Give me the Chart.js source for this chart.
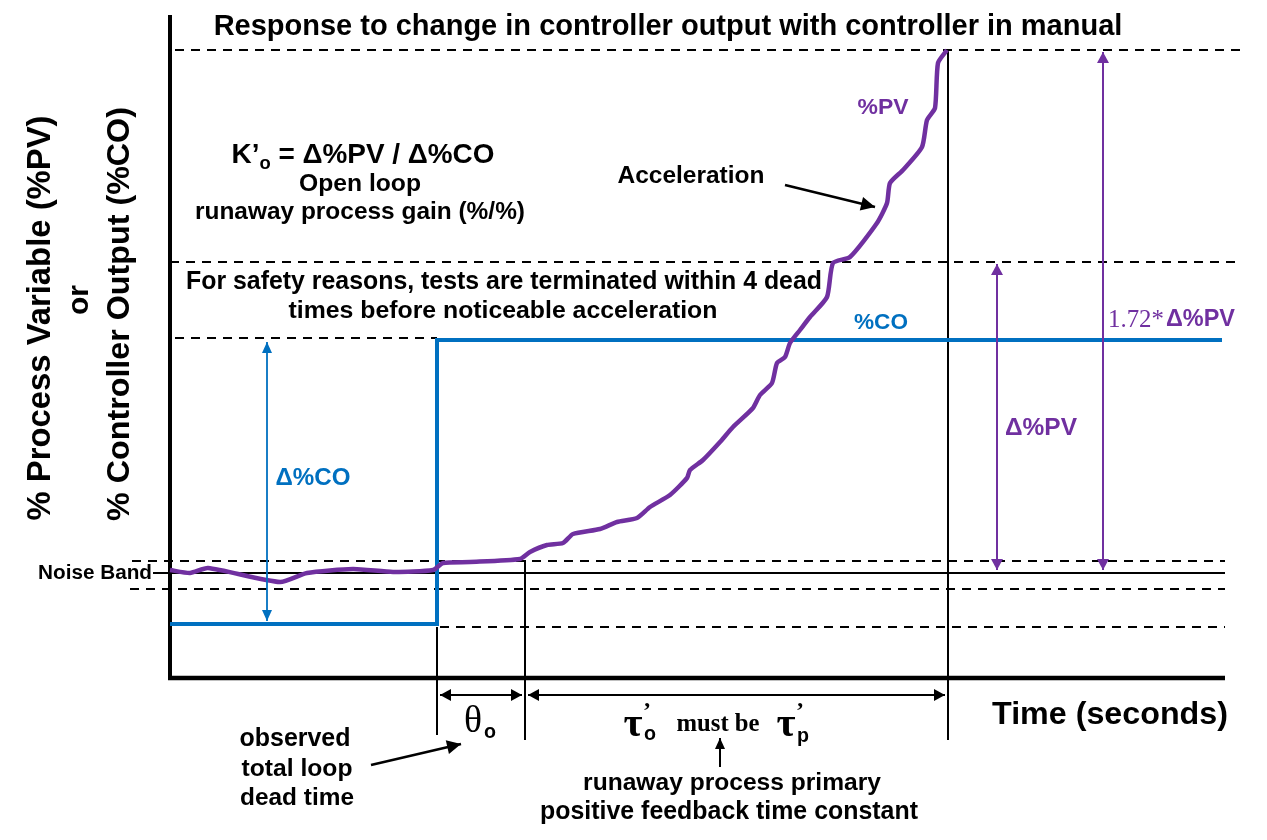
<!DOCTYPE html>
<html>
<head>
<meta charset="utf-8">
<script src="https://cdn.jsdelivr.net/npm/chart.js@4/dist/chart.umd.min.js"></script>
<style>
  html, body { margin: 0; padding: 0; background: #fff; }
  #wrap { width: 1267px; height: 840px; }
</style>
</head>
<body>
<div id="wrap"><canvas id="chart-response" width="1267" height="840"></canvas></div>
<script>
// time in seconds, values in % (arbitrary scale)
const PV_TIME = [0, 2, 3.8, 11, 13.7, 18.3, 22.3, 26.3, 27.3, 30, 35, 36, 37.7, 39.3, 40.3, 43, 44.7, 46.7, 48, 50, 51.7, 52, 53.3, 55, 56.3, 58.3, 59, 60.2, 60.7, 61.5, 62, 63, 64, 65.7, 66.3, 68, 70.7, 71.7, 72, 73.3, 75.2, 75.7, 76.5, 76.8, 77.7];
const PV_VALUE = [11.0, 10.7, 11.2, 9.8, 10.7, 11.1, 10.8, 11.0, 11.7, 11.8, 12.1, 12.8, 13.5, 13.7, 14.6, 15.1, 15.8, 16.2, 17.3, 18.5, 20.2, 21.0, 22.0, 23.8, 25.3, 27.2, 28.5, 29.7, 31.7, 32.3, 33.7, 35.0, 36.3, 38.3, 41.7, 42.3, 45.7, 47.7, 49.7, 51.0, 53.3, 56.0, 57.2, 61.7, 63.0];

const CO_TIME = [0, 26.7, 26.7, 105.2];
const CO_VALUE = [5.6, 5.6, 34.0, 34.0];

const STEP_TIME = 26.7;
const DEAD_END = 35.5;
const TEST_END = 77.8;

const PV_FINAL = 63.0;
const PV_STOP = 41.8;
const CO_HIGH = 34.2;
const NOISE_BAND = [11.9, 10.7, 9.1];
const CO_LOW = 5.3;

const pts = (xs, ys) => xs.map((x, i) => ({ x, y: ys[i] }));
const seg = (x1, y1, x2, y2) => [{ x: x1, y: y1 }, { x: x2, y: y2 }];

function guide(data, dashed, width) {
  return {
    data, showLine: true, pointRadius: 0, borderColor: '#000', borderWidth: width || 2,
    borderDash: dashed ? [9, 7] : [], tension: 0, order: 5
  };
}

const datasets = [
  { label: '%PV', data: pts(PV_TIME, PV_VALUE), showLine: true, pointRadius: 0, borderColor: '#7030A0', borderWidth: 4.5, tension: 0.2, order: 0 },
  { label: '%CO', data: pts(CO_TIME, CO_VALUE), showLine: true, pointRadius: 0, borderColor: '#0070C0', borderWidth: 4, tension: 0, borderJoinStyle: 'miter', order: 1 },
  // axes
  guide(seg(0, 66.5, 0, 0), false, 4),
  guide(seg(-0.2, 0.2, 105.5, 0.2), false, 4.5),
  // reference levels
  guide(seg(0.5, PV_FINAL, 107.5, PV_FINAL), true),
  guide(seg(0, PV_STOP, 107, PV_STOP), true),
  guide(seg(0.5, CO_HIGH, STEP_TIME, CO_HIGH), true),
  guide(seg(-3.8, NOISE_BAND[0], 105.5, NOISE_BAND[0]), true),
  guide(seg(-1.7, NOISE_BAND[1], 105.5, NOISE_BAND[1]), false),
  guide(seg(-4, NOISE_BAND[2], 105.5, NOISE_BAND[2]), true),
  guide(seg(STEP_TIME + 0.3, CO_LOW, 105.5, CO_LOW), true),
  // time marks
  guide(seg(STEP_TIME, CO_LOW, STEP_TIME, -5.5), false),
  guide(seg(DEAD_END, 12, DEAD_END, -6), false),
  guide(seg(TEST_END, PV_FINAL, TEST_END, -6), false)
];

function arrowHead(ctx, x1, y1, x2, y2, len, half) {
  const a = Math.atan2(y2 - y1, x2 - x1);
  ctx.beginPath();
  ctx.moveTo(x2, y2);
  ctx.lineTo(x2 - len * Math.cos(a) + half * Math.sin(a), y2 - len * Math.sin(a) - half * Math.cos(a));
  ctx.lineTo(x2 - len * Math.cos(a) - half * Math.sin(a), y2 - len * Math.sin(a) + half * Math.cos(a));
  ctx.closePath();
  ctx.fill();
}

const sans = '"Liberation Sans", Arial, sans-serif';
const serif = '"Liberation Serif", "DejaVu Serif", serif';

const annotations = {
  id: 'annotations',
  afterDatasetsDraw(chart) {
    const { ctx } = chart;
    const sx = (t) => chart.scales.x.getPixelForValue(t);
    const sy = (v) => chart.scales.y.getPixelForValue(v);

    function arrow(t1, v1, t2, v2, color, width, both, len, half) {
      const x1 = sx(t1), y1 = sy(v1), x2 = sx(t2), y2 = sy(v2);
      ctx.save();
      ctx.strokeStyle = color; ctx.fillStyle = color; ctx.lineWidth = width;
      ctx.beginPath(); ctx.moveTo(x1, y1); ctx.lineTo(x2, y2); ctx.stroke();
      arrowHead(ctx, x1, y1, x2, y2, len, half);
      if (both) arrowHead(ctx, x2, y2, x1, y1, len, half);
      ctx.restore();
    }

    // text sized so that it spans the given width
    function fit(str, x, y, weight, family, width, color, align) {
      ctx.save();
      ctx.font = `${weight} 100px ${family}`;
      const size = 100 * width / ctx.measureText(str).width;
      ctx.font = `${weight} ${size.toFixed(2)}px ${family}`;
      ctx.fillStyle = color || '#000';
      ctx.textAlign = align || 'center'; ctx.textBaseline = 'middle';
      ctx.fillText(str, x, y);
      ctx.restore();
    }

    function rotated(str, x, y, width) {
      ctx.save();
      ctx.translate(x, y); ctx.rotate(-Math.PI / 2);
      fit(str, 0, 0, 'bold', sans, width);
      ctx.restore();
    }

    // double arrows
    arrow(9.7, 33.8, 9.7, 5.9, '#0070C0', 1.8, true, 11, 5);
    arrow(82.7, 41.6, 82.7, 11.0, '#7030A0', 2, true, 11, 6);
    arrow(93.3, 62.8, 93.3, 11.0, '#7030A0', 2, true, 11, 6);
    // time spans
    arrow(27.0, -1.5, 35.2, -1.5, '#000', 2, true, 11, 6);
    arrow(35.8, -1.5, 77.5, -1.5, '#000', 2, true, 11, 6);
    // pointers
    arrow(61.5, 49.5, 70.5, 47.3, '#000', 2.5, false, 14, 7);
    arrow(20.1, -8.5, 29.1, -6.4, '#000', 2.5, false, 14, 7);
    arrow(55.0, -8.7, 55.0, -5.8, '#000', 2, false, 11, 5);

    fit('Response to change in controller output with controller in manual', 668, 27, 'bold', sans, 909);

    rotated('% Process Variable (%PV)', 41, 318, 405);
    rotated('or', 80, 300, 30);
    rotated('% Controller Output (%CO)', 120, 314, 414);

    fit('Noise Band', 95, 573, 'bold', sans, 114);

    // gain formula K'o = Δ%PV / Δ%CO
    ctx.save();
    const partA = 'K’', partB = ' = Δ%PV / Δ%CO';
    ctx.font = `bold 100px ${sans}`;
    const wA = ctx.measureText(partA).width, wB = ctx.measureText(partB).width;
    ctx.font = `bold 66px ${sans}`;
    const wS = ctx.measureText('o').width;
    const k = 263 / (wA + wB + wS);
    let x0 = 363 - 263 / 2;
    ctx.fillStyle = '#000'; ctx.textAlign = 'left'; ctx.textBaseline = 'alphabetic';
    ctx.font = `bold ${100 * k}px ${sans}`;
    ctx.fillText(partA, x0, 163);
    ctx.font = `bold ${66 * k}px ${sans}`;
    ctx.fillText('o', x0 + wA * k, 169);
    ctx.font = `bold ${100 * k}px ${sans}`;
    ctx.fillText(partB, x0 + (wA + wS) * k, 163);
    ctx.restore();
    fit('Open loop', 360, 184, 'bold', sans, 122);
    fit('runaway process gain (%/%)', 360, 212, 'bold', sans, 330);

    fit('For safety reasons, tests are terminated within 4 dead', 504, 282, 'bold', sans, 636);
    fit('times before noticeable acceleration', 503, 311, 'bold', sans, 429);

    fit('Acceleration', 691, 176, 'bold', sans, 147);
    fit('%PV', 883, 108, 'bold', sans, 51, '#7030A0');
    fit('%CO', 881, 323, 'bold', sans, 54, '#0070C0');
    fit('Δ%CO', 313, 478, 'bold', sans, 75, '#0070C0');
    fit('Δ%PV', 1041, 428, 'bold', sans, 72, '#7030A0');
    fit('1.72*', 1108, 320, 'normal', serif, 56, '#7030A0', 'left');
    fit('Δ%PV', 1166, 320, 'bold', sans, 69, '#7030A0', 'left');

    fit('Time (seconds)', 1110, 715, 'bold', sans, 236);

    // dead time symbol
    fit('θ', 473, 722, 'normal', serif, 18);
    fit('o', 490, 733, 'bold', sans, 12);
    // time constants
    fit('τ', 633, 725, 'bold', serif, 19);
    fit('’', 647, 712, 'bold', serif, 8);
    fit('o', 650, 735, 'bold', sans, 12);
    fit('must be', 718, 725, 'bold', serif, 83);
    fit('τ', 786, 725, 'bold', serif, 19);
    fit('’', 800, 712, 'bold', serif, 8);
    fit('p', 803, 737, 'bold', sans, 12);

    fit('observed', 295, 739, 'bold', sans, 111);
    fit('total loop', 297, 769, 'bold', sans, 111);
    fit('dead time', 297, 798, 'bold', sans, 114);

    fit('runaway process primary', 732, 783, 'bold', sans, 298);
    fit('positive feedback time constant', 729, 812, 'bold', sans, 378);
  }
};

new Chart(document.getElementById('chart-response'), {
  type: 'scatter',
  data: { datasets },
  options: {
    responsive: false,
    animation: false,
    devicePixelRatio: 1,
    layout: { padding: 0 },
    plugins: { legend: { display: false }, tooltip: { enabled: false }, title: { display: false } },
    scales: {
      x: { type: 'linear', min: -17, max: 109.7, display: false },
      y: { type: 'linear', min: -16, max: 68, display: false }
    }
  },
  plugins: [annotations]
});
</script>
</body>
</html>
